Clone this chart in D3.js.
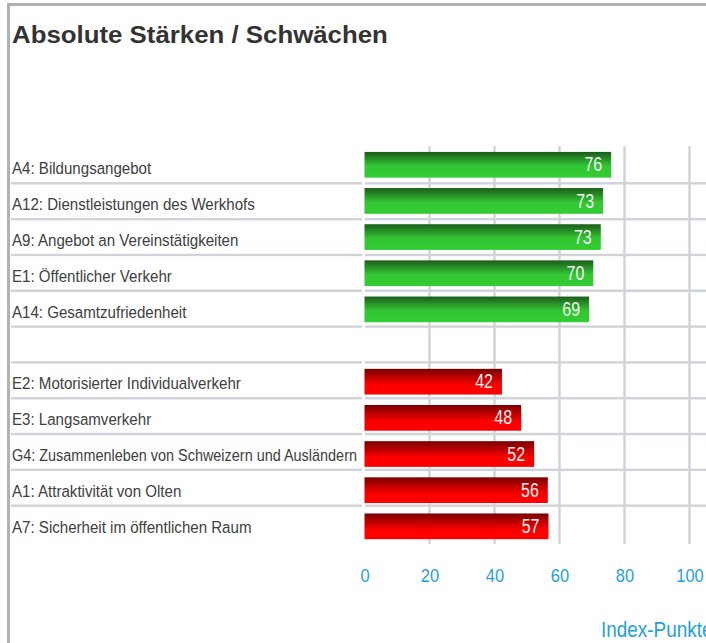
<!DOCTYPE html>
<html>
<head>
<meta charset="utf-8">
<script src="https://cdn.jsdelivr.net/npm/d3@7"></script>
<style>
  html, body { margin: 0; padding: 0; background: #fff; overflow: hidden; }
  svg { display: block; }
</style>
</head>
<body>
<svg id="chart" width="706" height="643"></svg>
<script>
// ---- data ----
const title = "Absolute Stärken / Schwächen";
const strengthLabels = [
  "A4: Bildungsangebot",
  "A12: Dienstleistungen des Werkhofs",
  "A9: Angebot an Vereinstätigkeiten",
  "E1: Öffentlicher Verkehr",
  "A14: Gesamtzufriedenheit"
];
const strengthValues = [75.9, 73.4, 72.7, 70.4, 69.1];
const weaknessLabels = [
  "E2: Motorisierter Individualverkehr",
  "E3: Langsamverkehr",
  "G4: Zusammenleben von Schweizern und Ausländern",
  "A1: Attraktivität von Olten",
  "A7: Sicherheit im öffentlichen Raum"
];
const weaknessValues = [42.3, 48.2, 52.2, 56.4, 56.6];
const xTicks = [0, 20, 40, 60, 80, 100];
const axisTitle = "Index-Punkte";

// ---- build rows ----
const rows = [];
strengthLabels.forEach((l, i) => rows.push({ key: "s" + i, label: l, value: strengthValues[i], type: "s" }));
rows.push({ key: "gap", label: "", value: null, type: "gap" });
weaknessLabels.forEach((l, i) => rows.push({ key: "w" + i, label: l, value: weaknessValues[i], type: "w" }));

const FONT = "'Liberation Sans', Arial, Helvetica, sans-serif";
const svg = d3.select("#chart");
const defs = svg.append("defs");

const gGreen = defs.append("linearGradient").attr("id", "gGreen").attr("x1", 0).attr("y1", 0).attr("x2", 0).attr("y2", 1);
gGreen.append("stop").attr("offset", "0%").attr("stop-color", "#1b5c1b");
gGreen.append("stop").attr("offset", "55%").attr("stop-color", "#33c633");
gGreen.append("stop").attr("offset", "100%").attr("stop-color", "#33cc33");

const gRed = defs.append("linearGradient").attr("id", "gRed").attr("x1", 0).attr("y1", 0).attr("x2", 0).attr("y2", 1);
gRed.append("stop").attr("offset", "0%").attr("stop-color", "#780000");
gRed.append("stop").attr("offset", "65%").attr("stop-color", "#ff0000");
gRed.append("stop").attr("offset", "100%").attr("stop-color", "#ff0000");

// frame
svg.append("rect").attr("x", 7).attr("y", 3).attr("width", 699).attr("height", 3).attr("fill", "#b2b2b2");
svg.append("rect").attr("x", 7).attr("y", 3).attr("width", 3).attr("height", 640).attr("fill", "#b2b2b2");

// title
svg.append("text")
  .attr("transform", "translate(12,43.4) scale(1.067,1)")
  .attr("font-family", FONT)
  .attr("font-weight", "bold")
  .attr("font-size", 24.2)
  .attr("fill", "#333333")
  .text(title);

// scales
const x = d3.scaleLinear().domain([0, 100]).range([364.5, 689.5]);
const yBar = d3.scaleBand().domain(rows.map(d => d.key)).range([146.7, 544.4]);
const yRow = d3.scaleBand().domain(rows.map(d => d.key)).range([147.5, 541.5]);

const gridColor = "#d0d3da";

// horizontal row lines (label table)
const rowLines = rows.slice(0, rows.length - 1);
svg.append("g").selectAll("rect").data(rowLines).join("rect")
  .attr("x", 11).attr("width", 351)
  .attr("y", d => yRow(d.key) + yRow.bandwidth() - 1.2).attr("height", 2.4)
  .attr("fill", gridColor);
svg.append("g").selectAll("rect").data(rowLines).join("rect")
  .attr("x", 365).attr("width", 706 - 365)
  .attr("y", d => yRow(d.key) + yRow.bandwidth() - 1.2).attr("height", 2.4)
  .attr("fill", gridColor);

// vertical grid lines
svg.append("g").selectAll("rect").data(xTicks.filter(t => t > 0)).join("rect")
  .attr("x", d => x(d) - 1.2).attr("width", 2.4)
  .attr("y", 146).attr("height", 544 - 146)
  .attr("fill", gridColor);

// labels (compressed to fit the label column when too long)
const labelCol = 345;
svg.append("g").selectAll("text").data(rows.filter(d => d.type !== "gap")).join("text")
  .attr("font-family", FONT)
  .attr("font-size", 16.5)
  .attr("fill", "#404040")
  .text(d => d.label)
  .each(function(d) {
    const len = this.getComputedTextLength();
    const s = Math.min(0.915, labelCol / len);
    d3.select(this).attr("transform", `translate(12,${yRow(d.key) + yRow.bandwidth() - 9}) scale(${s},1)`);
  });

// bars
const barH = 25.7;
const bars = rows.filter(d => d.type !== "gap");
svg.append("g").selectAll("rect").data(bars).join("rect")
  .attr("x", x(0))
  .attr("y", d => yBar(d.key) + yBar.bandwidth() / 2 - barH / 2)
  .attr("width", d => x(d.value) - x(0))
  .attr("height", barH)
  .attr("fill", d => d.type === "s" ? "url(#gGreen)" : "url(#gRed)");

// value labels
svg.append("g").selectAll("text").data(bars).join("text")
  .attr("transform", d => `translate(${x(d.value) - 9},${yBar(d.key) + yBar.bandwidth() / 2 + 6.6}) scale(0.78,1)`)
  .attr("text-anchor", "end")
  .attr("font-family", FONT)
  .attr("font-size", 20.5)
  .attr("fill", "#f4f4f4")
  .text(d => Math.round(d.value));

// x axis tick labels
const axis = d3.axisBottom(x).tickValues(xTicks).tickSize(0).tickPadding(0).tickFormat(d3.format("d"));
const axG = svg.append("g").attr("transform", "translate(0,568)").call(axis);
axG.select(".domain").remove();
axG.selectAll("text")
  .attr("dy", null).attr("y", 13.7)
  .attr("transform", "scale(0.89,1)")
  .attr("font-family", FONT)
  .attr("font-size", 18.5)
  .attr("fill", "#25a0d6");

// axis title
svg.append("text")
  .attr("transform", "translate(601,637) scale(0.86,1)")
  .attr("font-family", FONT)
  .attr("font-size", 22)
  .attr("fill", "#25a0d6")
  .text(axisTitle);
</script>
</body>
</html>
